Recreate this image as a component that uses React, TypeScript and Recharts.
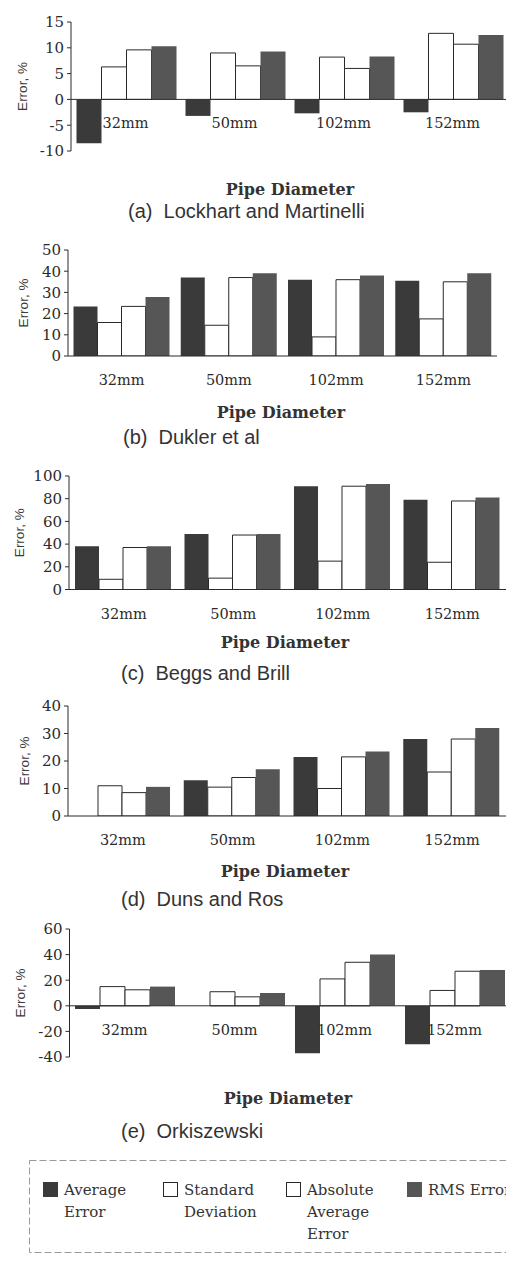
import React from 'react';
import { BarChart, Bar, XAxis, YAxis, ReferenceLine } from 'recharts';

const CATEGORIES = ['32mm', '50mm', '102mm', '152mm'];
const SERIES_KEYS = ['avg', 'sd', 'aae', 'rms'];
const SERIES_NAMES = ['Average Error', 'Standard Deviation', 'Absolute Average Error', 'RMS Error'];
const LEGEND_LINES = [['Average', 'Error'], ['Standard', 'Deviation'], ['Absolute', 'Average', 'Error'], ['RMS Error']];

// (a) Lockhart and Martinelli
const LM_AVG = [-8.5, -3.2, -2.7, -2.5];
const LM_SD = [6.3, 9.0, 8.2, 12.8];
const LM_AAE = [9.6, 6.5, 6.0, 10.7];
const LM_RMS = [10.3, 9.3, 8.3, 12.5];
const LM_TICKS = [-10, -5, 0, 5, 10, 15];

// (b) Dukler et al
const DK_AVG = [23.4, 37, 36, 35.5];
const DK_SD = [15.8, 14.5, 9, 17.5];
const DK_AAE = [23.4, 37, 36, 35];
const DK_RMS = [27.8, 39, 38, 39];
const DK_TICKS = [0, 10, 20, 30, 40, 50];

// (c) Beggs and Brill
const BB_AVG = [38, 49, 91, 79];
const BB_SD = [9, 10, 25, 24];
const BB_AAE = [37, 48, 91, 78];
const BB_RMS = [38, 49, 93, 81];
const BB_TICKS = [0, 20, 40, 60, 80, 100];

// (d) Duns and Ros
const DR_AVG = [0, 13, 21.5, 28];
const DR_SD = [11, 10.5, 10, 16];
const DR_AAE = [8.5, 14, 21.5, 28];
const DR_RMS = [10.6, 17, 23.5, 32];
const DR_TICKS = [0, 10, 20, 30, 40];

// (e) Orkiszewski
const OR_AVG = [-2.5, 0, -37, -30];
const OR_SD = [15, 11, 21, 12];
const OR_AAE = [12.5, 7, 34, 27];
const OR_RMS = [15, 10, 40, 28];
const OR_TICKS = [-40, -20, 0, 20, 40, 60];

const FILLS: Record<string, string> = { avg: '#3a3a3a', sd: '#ffffff', aae: '#ffffff', rms: '#565656' };
const STROKES: Record<string, string> = { avg: 'none', sd: '#2a2a2a', aae: '#2a2a2a', rms: 'none' };

const INK = '#2b2b2b';
const SERIF = '"DejaVu Serif", serif';
const SANS = '"Liberation Sans", Arial, sans-serif';

const PANELS = [
  { title: '(a)  Lockhart and Martinelli', values: [LM_AVG, LM_SD, LM_AAE, LM_RMS], ticks: LM_TICKS,
    left: 71, width: 436, top: 22, bottom: 151, gap: 5.5, yTitleX: 22, pdX: 290, pdY: 195, subX: 128, subY: 218 },
  { title: '(b)  Dukler et al', values: [DK_AVG, DK_SD, DK_AAE, DK_RMS], ticks: DK_TICKS,
    left: 68, width: 429, top: 250, bottom: 356, gap: 5.5, yTitleX: 23, pdX: 281, pdY: 418, subX: 123, subY: 444 },
  { title: '(c)  Beggs and Brill', values: [BB_AVG, BB_SD, BB_AAE, BB_RMS], ticks: BB_TICKS,
    left: 69, width: 438, top: 476, bottom: 589.5, gap: 6, yTitleX: 19, pdX: 285, pdY: 648, subX: 121, subY: 680 },
  { title: '(d)  Duns and Ros', values: [DR_AVG, DR_SD, DR_AAE, DR_RMS], ticks: DR_TICKS,
    left: 68, width: 439, top: 706, bottom: 816, gap: 6, yTitleX: 24, pdX: 285, pdY: 877, subX: 121, subY: 906 },
  { title: '(e)  Orkiszewski', values: [OR_AVG, OR_SD, OR_AAE, OR_RMS], ticks: OR_TICKS,
    left: 69.5, width: 440, top: 929, bottom: 1057, gap: 5.5, yTitleX: 20, pdX: 288, pdY: 1104, subX: 121, subY: 1138 },
];

const LEGEND_X = [43, 163, 286, 407];

const PAD = 12;
const XAXIS_H = 40;

const Panel = ({ p }: { p: any }) => {
  const rows = CATEGORIES.map((name, i) => {
    const row: any = { name };
    SERIES_KEYS.forEach((k, s) => { row[k] = p.values[s][i]; });
    return row;
  });
  const min = p.ticks[0];
  const max = p.ticks[p.ticks.length - 1];
  const plotH = p.bottom - p.top;
  // category labels sit just under the zero line, not under the plot
  const zeroShift = (plotH * (0 - min)) / (max - min);

  return (
    <div style={{ position: 'absolute', left: 0, top: p.top - PAD }}>
      <BarChart
        width={p.left + p.width}
        height={PAD + plotH + XAXIS_H}
        data={rows}
        margin={{ top: PAD, right: 0, bottom: 0, left: 0 }}
        barGap={0}
        barCategoryGap={p.gap}
      >
        <XAxis
          dataKey="name"
          height={XAXIS_H}
          axisLine={false}
          tickLine={false}
          tickSize={0}
          tickMargin={0}
          interval={0}
          tick={(t: any) => (
            <text x={t.x} y={t.y - zeroShift + 24} dy="0.35em" textAnchor="middle"
              fontFamily={SERIF} fontSize={14.5} fill={INK}>
              {t.payload.value}
            </text>
          )}
        />
        <YAxis
          type="number"
          width={p.left}
          domain={[min, max]}
          ticks={p.ticks}
          interval={0}
          allowDataOverflow
          tickSize={4}
          tickMargin={3}
          axisLine={{ stroke: INK }}
          tickLine={{ stroke: INK }}
          tick={{ fontFamily: SERIF, fontSize: 15, fill: INK }}
          label={{
            content: (lp: any) => {
              const vb = lp.viewBox || { x: 0, y: PAD, height: plotH };
              const cx = vb.x + p.yTitleX;
              const cy = vb.y + vb.height / 2;
              return (
                <text x={cx} y={cy} transform={`rotate(-90, ${cx}, ${cy})`} textAnchor="middle"
                  dy="0.35em" fontFamily={SANS} fontSize={13.5} fill="#3a3a3a">
                  Error, %
                </text>
              );
            },
          }}
        />
        {SERIES_KEYS.map((k, s) => (
          <Bar key={k} dataKey={k} name={SERIES_NAMES[s]} fill={FILLS[k]} stroke={STROKES[k]}
            strokeWidth={1} isAnimationActive={false} />
        ))}
        <ReferenceLine y={0} stroke={INK} strokeWidth={1} />
      </BarChart>
    </div>
  );
};

export default function App() {
  return (
    <div style={{ position: 'absolute', left: 0, top: 0, width: 506, height: 1261, overflow: 'hidden', background: '#fff' }}>
      {PANELS.map((p) => <Panel key={p.title} p={p} />)}
      <svg width={506} height={1261} style={{ position: 'absolute', left: 0, top: 0, pointerEvents: 'none' }}>
        {PANELS.map((p) => (
          <g key={p.title}>
            <text x={p.pdX} y={p.pdY} textAnchor="middle" fontFamily={SERIF} fontWeight="bold" fontSize={16} fill="#333">
              Pipe Diameter
            </text>
            <text x={p.subX} y={p.subY} fontFamily={SANS} fontSize={20} fill="#333" style={{ whiteSpace: 'pre' }}>
              {p.title}
            </text>
          </g>
        ))}
        <rect x={29.5} y={1160.5} width={490} height={92} fill="none" stroke="#9a9a9a" strokeDasharray="7 3" />
        {SERIES_KEYS.map((k, s) => (
          <g key={k}>
            <rect x={LEGEND_X[s] + 0.5} y={1182.5} width={14} height={14} fill={FILLS[k]}
              stroke={STROKES[k] === 'none' ? FILLS[k] : STROKES[k]} />
            {LEGEND_LINES[s].map((line, j) => (
              <text key={line + j} x={LEGEND_X[s] + 21} y={1195 + j * 22} fontFamily={SERIF} fontSize={15} fill="#333">
                {line}
              </text>
            ))}
          </g>
        ))}
      </svg>
    </div>
  );
}
